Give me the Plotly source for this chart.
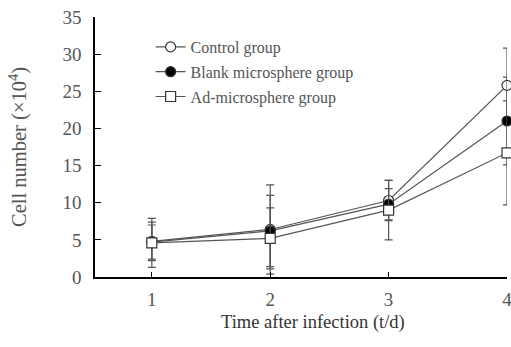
import plotly.graph_objects as go

days = [1, 2, 3, 4]
control = [4.8, 6.4, 10.3, 25.8]
control_err = [2.6, 6.0, 2.7, 5.0]
blank = [4.7, 6.2, 9.8, 21.0]
blank_err = [2.3, 4.8, 2.1, 5.9]
ad = [4.6, 5.2, 9.0, 16.7]
ad_err = [3.3, 4.1, 4.0, 7.0]
yticks = [0, 5, 10, 15, 20, 25, 30, 35]

font = "Liberation Serif, Times New Roman, serif"
lc = "#555555"

series = [
    ("Control group", control, control_err, "circle", "white"),
    ("Blank microsphere group", blank, blank_err, "circle", "black"),
    ("Ad-microsphere group", ad, ad_err, "square", "white"),
]

fig = go.Figure()
for name, ys, err, sym, fill in series:
    fig.add_trace(go.Scatter(
        x=days, y=ys, name=name, legendgroup=name, mode="lines+markers",
        line=dict(color=lc, width=1.2),
        marker=dict(symbol=sym, size=10, color=fill, line=dict(color="#333333", width=1.2)),
        error_y=dict(type="data", array=err, visible=True, color="#555555", thickness=1.2, width=4),
        cliponaxis=False,
    ))

fig.update_layout(
    width=511, height=347,
    margin=dict(l=95, r=4, t=17, b=70),
    paper_bgcolor="white", plot_bgcolor="white",
    font=dict(family=font, size=13, color="#333333"),
    showlegend=True,
    legend=dict(x=0.135, y=0.95, xanchor="left", yanchor="top",
                bgcolor="rgba(0,0,0,0)", font=dict(size=16, color="#555555"),
                itemwidth=30, tracegroupgap=1),
    xaxis=dict(range=[0.52, 4.0], tickvals=days, ticks="inside", ticklen=5,
               tickcolor="black", showline=True, linecolor="black", linewidth=1.5,
               showgrid=False, zeroline=False, tickfont=dict(size=19, color="#555555"),
               automargin=False, ticklabelstandoff=4, ticklabeloverflow="allow"),
    yaxis=dict(range=[0, 35], tickvals=yticks, ticks="inside", ticklen=6,
               tickcolor="black", showline=True, linecolor="black", linewidth=1.5,
               showgrid=False, zeroline=False, tickfont=dict(size=19, color="#555555"),
               automargin=False, ticklabelstandoff=8,
               title=dict(text="Cell number (×10<sup>4</sup>)", font=dict(size=20.5, color="#555555"), standoff=30)),
    annotations=[dict(text="Time after infection (t/d)", xref="paper", yref="paper",
                      x=0.53, y=-0.175, xanchor="center", yanchor="middle", showarrow=False,
                      font=dict(size=18.5, color="#333333"))],
)

fig.write_html("out.html", config={"displayModeBar": False},
               post_script="document.body.style.margin='0';document.body.style.overflow='hidden';")
